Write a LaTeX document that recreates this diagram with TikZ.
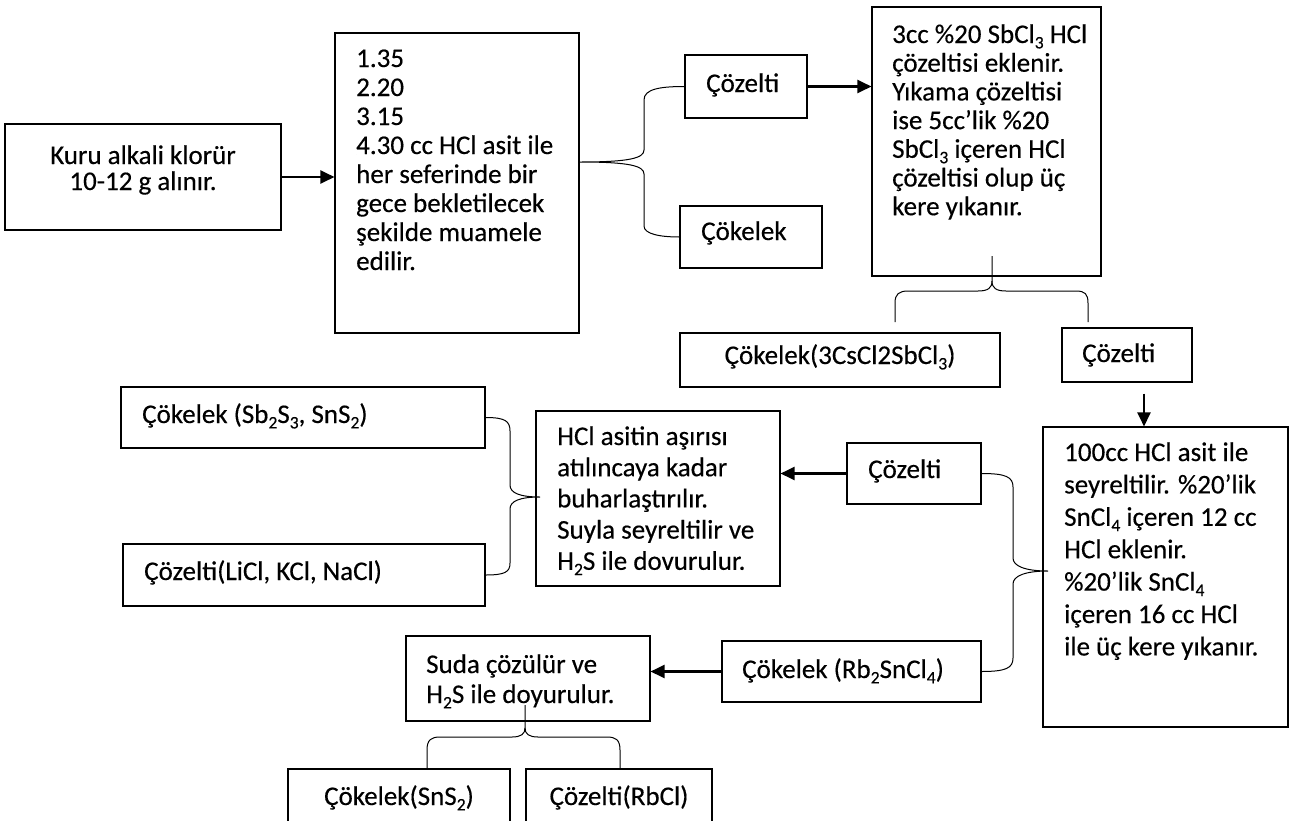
\documentclass[tikz,border=0pt]{standalone}
\usepackage{fontspec}
\setmainfont{Carlito}[FakeBold=0.35]
\usepackage{graphicx}
\usetikzlibrary{fit,arrows.meta}
\newcommand{\sbs}[1]{\raisebox{-0.2em}{\scalebox{0.65}{#1}}}
\newcommand{\txt}[2]{\parbox[t]{320pt}{\fontsize{27}{#1}\selectfont #2}}
\begin{document}
\begin{tikzpicture}[x=1pt,y=-1pt,
  bx/.style={draw, line width=1.1pt, inner sep=0pt},
  tx/.style={anchor=base west, inner sep=0pt},
  tc/.style={anchor=base, inner sep=0pt, font=\fontsize{27}{28}\selectfont},
  arr/.style={line width=2.2pt, -{Triangle[length=14pt,width=13pt]}},
  brc/.style={line width=1pt}]
\useasboundingbox (0,0) rectangle (1291,820);
\clip (0,0) rectangle (1291,820);
% boxes
\node[bx, fit={(5,124)(281,230)}] (A) {};
\node[bx, fit={(335,33)(579,333)}] (B) {};
\node[bx, fit={(685,55)(807,118)}] (Cz1) {};
\node[bx, fit={(680,206)(822,268)}] (Ck1) {};
\node[bx, fit={(872,7)(1101,276)}] (C) {};
\node[bx, fit={(680,333)(1000,387)}] (Cs) {};
\node[bx, fit={(1062,328)(1192,382)}] (Cz2) {};
\node[bx, fit={(1043,427)(1288,727)}] (D) {};
\node[bx, fit={(121,387)(485,448)}] (F) {};
\node[bx, fit={(123,544)(485,606)}] (G) {};
\node[bx, fit={(536,411)(780,586)}] (E) {};
\node[bx, fit={(847,443)(981,504)}] (Cz3) {};
\node[bx, fit={(722,641)(981,702)}] (Rb) {};
\node[bx, fit={(406,636)(650,721)}] (H) {};
\node[bx, fit={(288,769)(510,840)}] (K) {};
\node[bx, fit={(526,769)(712,840)}] (R) {};
% texts
\node[tc] (tA1) at (143,164) {Kuru alkali klorür};
\node[tc] (tA2) at (143,190) {10-12 g alınır.};
\node[tx] (tB) at (356,67) {\txt{29}{1.35\\2.20\\3.15\\4.30 cc HCl asit ile\\her seferinde bir\\gece bekletilecek\\şekilde muamele\\edilir.}};
\node[tx] (tCz1) at (706,92) {\txt{28}{Çözelti}};
\node[tx] (tCk1) at (701,240) {\txt{28}{Çökelek}};
\node[tx] (tC) at (892,43) {\txt{28.7}{3cc \%20 SbCl\sbs{3} HCl\\çözeltisi eklenir.\\Yıkama çözeltisi\\ise 5cc’lik \%20\\SbCl\sbs{3} içeren HCl\\çözeltisi olup üç\\kere yıkanır.}};
\node[tc] (tCs) at (840,364) {Çökelek(3CsCl2SbCl\sbs{3})};
\node[tx] (tCz2) at (1082,362) {\txt{28}{Çözelti}};
\node[tx] (tD) at (1064,461) {\txt{32.4}{100cc HCl asit ile\\seyreltilir. \%20’lik\\SnCl\sbs{4} içeren 12 cc\\HCl eklenir.\\\%20’lik SnCl\sbs{4}\\içeren 16 cc HCl\\ile üç kere yıkanır.}};
\node[tx] (tF) at (142,423) {\txt{28}{Çökelek (Sb\sbs{2}S\sbs{3}, SnS\sbs{2})}};
\node[tx] (tG) at (144,580) {\txt{28}{Çözelti(LiCl, KCl, NaCl)}};
\node[tx] (tE) at (557,445) {\txt{31.2}{HCl asitin aşırısı\\atılıncaya kadar\\buharlaştırılır.\\Suyla seyreltilir ve\\H\sbs{2}S ile dovurulur.}};
\node[tx] (tCz3) at (868,478) {\txt{28}{Çözelti}};
\node[tx] (tRb) at (742,678) {\txt{28}{Çökelek (Rb\sbs{2}SnCl\sbs{4})}};
\node[tx] (tH) at (426,673) {\txt{30}{Suda çözülür ve\\H\sbs{2}S ile doyurulur.}};
\node[tc] (tK) at (399,805) {Çökelek(SnS\sbs{2})};
\node[tc] (tR) at (619,805) {Çözelti(RbCl)};
% arrows
\draw[arr] (A.east) -- (A.east -| B.west);
\draw[arr] (Cz1.east) -- (Cz1.east -| C.west);
\draw[arr] ([xshift=17pt,yshift=-11pt]Cz2.south) -- ([xshift=17pt]Cz2.south |- D.north);
\draw[arr] (Cz3.west) -- (Cz3.west -| E.east);
\draw[arr] (Rb.west) -- (Rb.west -| H.east);
% braces
\coordinate (b1) at (580,162);
\draw[brc] (Cz1.west) .. controls (660,86.5) and (644,89) .. (644,100) -- (644,150) .. controls (644,158) and (630,162) .. (b1) .. controls (630,162) and (644,166) .. (644,174) -- (644,226) .. controls (644,234) and (660,237) .. (Ck1.west);
\coordinate (c2l) at (895,322);
\coordinate (c2r) at (1088,322);
\coordinate (b2) at (992,256);
\coordinate (m2) at (992,281);
\draw[brc] (c2l) -- (895,303) .. controls (895,294) and (899,291) .. (908,291) -- (978,291) .. controls (988,291) and (992,288) .. (m2) -- (b2);
\draw[brc] (m2) .. controls (992,288) and (996,291) .. (1006,291) -- (1076,291) .. controls (1085,291) and (1088,294) .. (1088,303) -- (c2r);
\coordinate (b3) at (540,497);
\draw[brc] (F.east) .. controls (505,417.5) and (510,421) .. (510,431) -- (510,485) .. controls (510,493) and (520,497) .. (b3) .. controls (520,497) and (510,501) .. (510,509) -- (510,563) .. controls (510,572) and (505,575) .. (G.east);
\coordinate (b4) at (1048,571);
\draw[brc] (Cz3.east) .. controls (1006,473.5) and (1013,477) .. (1013,487) -- (1013,558) .. controls (1013,566) and (1025,571) .. (b4) .. controls (1025,571) and (1013,576) .. (1013,584) -- (1013,658) .. controls (1013,668) and (1006,671.5) .. (Rb.east);
\coordinate (k5) at (427,769);
\coordinate (r5) at (620,769);
\coordinate (b5) at (525,705);
\coordinate (m5) at (525,728);
\draw[brc] (k5) -- (427,750) .. controls (427,740) and (431,737) .. (440,737) -- (512,737) .. controls (521,737) and (525,734) .. (m5) -- (b5);
\draw[brc] (m5) .. controls (525,734) and (529,737) .. (538,737) -- (607,737) .. controls (616,737) and (620,740) .. (620,750) -- (r5);
\end{tikzpicture}
\end{document}
